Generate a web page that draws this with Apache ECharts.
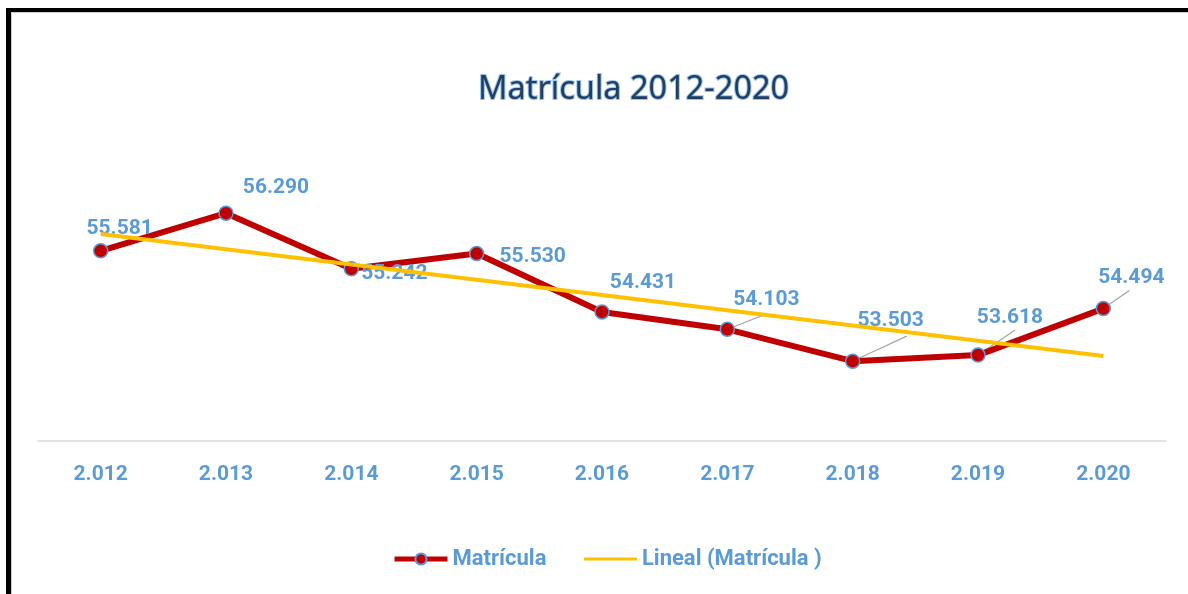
<!DOCTYPE html>
<html>
<head>
<meta charset="utf-8">
<script src="https://cdn.jsdelivr.net/npm/echarts@6/dist/echarts.min.js"></script>
<style>
  html, body { margin: 0; padding: 0; background: #fff; }
  #chart { position: absolute; left: 0; top: 0; width: 1188px; height: 594px; }
  .frame {
    position: absolute; left: 6px; top: 8px; width: 1182px; height: 586px;
    border-top: 4px solid #000; border-left: 5px solid #000;
    box-shadow: inset 1px 1px 0 #d0d0d0;
    pointer-events: none;
  }
</style>
</head>
<body>
<div id="chart"></div>
<div class="frame"></div>
<script>
// años (formato de Excel con separador de miles)
const categories = ["2.012", "2.013", "2.014", "2.015", "2.016", "2.017", "2.018", "2.019", "2.020"];
// matrícula total
const matricula = [55581, 56290, 55242, 55530, 54431, 54103, 53503, 53618, 54494];
// línea de tendencia lineal (extremos)
const tendencia = [[0, 55900], [8, 53600]];

// desplazamiento de etiquetas respecto a la posición "top"
const labelShift = [
  [19, 1], [50, -2], [43, 28], [56, 26], [41, -6],
  [39, -6], [38, -17], [32, -14], [28, -8]
];
// líneas guía (px desde el punto), null = sin guía
const guideVec = [null, null, null, null, null, [38, -15], [54, -25], [37, -25], [26, -18]];

const blue = "#5b9bd5";
const labelFont = "Roboto";

function fmt(v) {
  return String(v).replace(/\B(?=(\d{3})+(?!\d))/g, ".");
}

const chart = echarts.init(document.getElementById("chart"));

const option = {
  backgroundColor: "#fff",
  animation: false,
  title: {
    text: "Matrícula 2012-2020",
    left: 473,
    top: 68,
    textStyle: {
      fontFamily: "Noto Sans",
      fontWeight: "normal",
      fontSize: 32.5,
      color: "#1f3f66",
      textBorderColor: "#9cc3e8",
      textBorderWidth: 2,
    },
  },
  legend: {
    left: 392,
    top: 548,
    padding: 0,
    itemWidth: 53,
    itemHeight: 14,
    itemGap: 36,
    data: [
      { name: "Matrícula", lineStyle: { width: 5 } },
      { name: "Lineal (Matrícula )", itemStyle: { opacity: 0 }, lineStyle: { width: 3 } },
    ],
    textStyle: {
      fontFamily: labelFont,
      fontWeight: "bold",
      fontSize: 22,
      color: blue,
    },
  },
  grid: {
    left: 38,
    right: 22,
    top: 175.5,
    bottom: 153,
  },
  xAxis: {
    type: "category",
    data: categories,
    boundaryGap: true,
    axisLine: { lineStyle: { color: "#d9d9d9", width: 1.5 } },
    axisTick: { show: false },
    axisLabel: {
      margin: 23,
      fontFamily: labelFont,
      fontWeight: "bold",
      fontSize: 21,
      color: blue,
    },
  },
  yAxis: {
    type: "value",
    min: 52000,
    max: 57000,
    show: false,
    splitLine: { show: false },
  },
  series: [
    {
      name: "Matrícula",
      type: "line",
      data: matricula,
      symbol: "circle",
      symbolSize: 14,
      lineStyle: { color: "#c00000", width: 6 },
      itemStyle: { color: "#c00000", borderColor: blue, borderWidth: 1.5 },
      label: {
        show: true,
        position: "top",
        distance: 5,
        formatter: (p) => fmt(p.value),
        fontFamily: labelFont,
        fontWeight: "bold",
        fontSize: 21,
        color: blue,
      },
      labelLayout: (p) => ({
        dx: labelShift[p.dataIndex][0],
        dy: labelShift[p.dataIndex][1],
      }),
      z: 2,
    },
    {
      // líneas guía de las etiquetas
      type: "custom",
      data: matricula.map((v, i) => [i, v]),
      silent: true,
      z: 1,
      renderItem: (params, api) => {
        const vec = guideVec[params.dataIndex];
        if (!vec) return null;
        const p = api.coord([api.value(0), api.value(1)]);
        const len = Math.sqrt(vec[0] * vec[0] + vec[1] * vec[1]);
        const r = 7;
        return {
          type: "line",
          shape: {
            x1: p[0] + (vec[0] / len) * r,
            y1: p[1] + (vec[1] / len) * r,
            x2: p[0] + vec[0],
            y2: p[1] + vec[1],
          },
          style: { stroke: "#a6a6a6", lineWidth: 1.3 },
        };
      },
    },
    {
      name: "Lineal (Matrícula )",
      type: "line",
      data: tendencia,
      symbol: "none",
      lineStyle: { color: "#ffc000", width: 4 },
      itemStyle: { color: "#ffc000" },
      z: 3,
    },
  ],
};

chart.setOption(option);
</script>
</body>
</html>
